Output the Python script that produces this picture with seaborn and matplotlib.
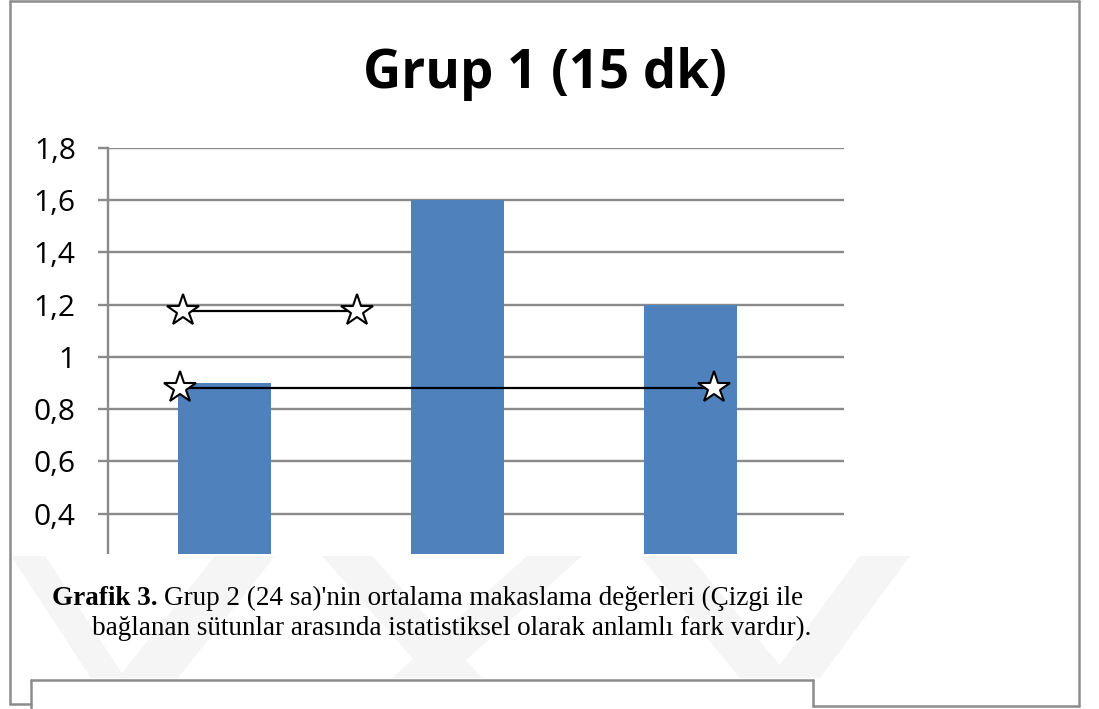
import matplotlib
matplotlib.use("Agg")
import matplotlib.pyplot as plt
from matplotlib.patches import Rectangle, Polygon
from matplotlib.lines import Line2D
import seaborn as sns
import pandas as pd

# ---- data -------------------------------------------------------------
categories = ["Sütun 1", "Sütun 2", "Sütun 3"]
mean_values = [0.9, 1.6, 1.2]
y_ticks = [0.2, 0.4, 0.6, 0.8, 1.0, 1.2, 1.4, 1.6, 1.8]
y_tick_labels = ["0,2", "0,4", "0,6", "0,8", "1", "1,2", "1,4", "1,6", "1,8"]

# significance connectors: start x, end x (category units) and height
sig_x_start = [-0.18, -0.19]
sig_x_end = [0.57, 2.10]
sig_level = [1.175, 0.88]

title = "Grup 1 (15 dk)"
caption_bold = "Grafik 3."
caption_line1 = "Grup 2 (24 sa)'nin ortalama makaslama değerleri (Çizgi ile"
caption_line2 = "bağlanan sütunlar arasında istatistiksel olarak anlamlı fark vardır)."

# ---- figure -----------------------------------------------------------
W, H = 1099, 709
sns.set_theme(style="white")
plt.rcParams["font.family"] = ["Open Sans", "DejaVu Sans"]
plt.rcParams["text.color"] = "black"

fig = plt.figure(figsize=(W / 100, H / 100), dpi=100)
fig.patch.set_facecolor("white")


def fx(px):
    return px / W


def fy(py):
    return 1 - py / H


grid_col = "#8a8a8a"
bar_col = "#4f81bd"

ax = fig.add_axes([fx(108), fy(618), (844 - 108) / W, (618 - 148) / H])
df = pd.DataFrame({"grup": categories, "deger": mean_values})
sns.barplot(data=df, x="grup", y="deger", color=bar_col, saturation=1,
            width=0.4, ax=ax, zorder=2, linewidth=0)

ax.set_xlim(-0.5, -0.5 + (844 - 108) / 233)
ax.set_ylim(0, 1.8)
ax.set_yticks(y_ticks)
ax.set_yticklabels(y_tick_labels, fontsize=21.5)
ax.set_xticks([])
ax.set_xlabel("")
ax.set_ylabel("")
ax.yaxis.grid(True, color=grid_col, linewidth=1.7, zorder=0)
ax.set_axisbelow(True)
for s in ["top", "right", "bottom"]:
    ax.spines[s].set_visible(False)
ax.spines["left"].set_color(grid_col)
ax.spines["left"].set_linewidth(1.7)
ax.tick_params(axis="y", length=7.2, width=1.7, color=grid_col, pad=16,
               labelcolor="black", left=True)

# significance connectors with star ends
for xs, xe, lv in zip(sig_x_start, sig_x_end, sig_level):
    ax.plot([xs, xe], [lv, lv], color="black", linewidth=1.6, zorder=4)
    ax.plot([xs, xe], [lv, lv], linestyle="none", marker="*", markersize=24,
            markerfacecolor="white", markeredgecolor="black",
            markeredgewidth=1.5, zorder=5)

# chart title
fig.text(fx(545), fy(88), title, ha="center", va="baseline",
         fontsize=38, fontweight="bold", color="black")

# caption panel laid over the lower part of the chart
fig.patches.append(Rectangle((fx(11), fy(680)), fx(1078) - fx(11),
                             fy(554) - fy(680), transform=fig.transFigure,
                             facecolor="white", edgecolor="none", zorder=3))

# faint watermark bands inside the caption panel
wm = "#f5f5f5"
bands = [
    [(11, 556), (45, 556), (125, 678), (91, 678)],
    [(215, 556), (275, 556), (178, 678), (118, 678)],
    [(322, 556), (372, 556), (482, 678), (430, 678)],
    [(527, 556), (582, 556), (446, 678), (392, 678)],
    [(640, 556), (690, 556), (790, 678), (740, 678)],
    [(860, 556), (910, 556), (820, 678), (770, 678)],
]
for b in bands:
    fig.patches.append(Polygon([(fx(x), fy(y)) for x, y in b], closed=True,
                               transform=fig.transFigure, facecolor=wm,
                               edgecolor="none", zorder=3.5))

serif = ["Liberation Serif", "DejaVu Serif"]
cap_size = 19.5
t1 = fig.text(fx(52), fy(605), caption_bold, ha="left", va="baseline",
              fontsize=cap_size, fontweight="bold", family=serif,
              color="black", zorder=5)
fig.canvas.draw()
bb = t1.get_window_extent()
fig.text((bb.x1 + 6) / W, fy(605), caption_line1, ha="left", va="baseline",
         fontsize=cap_size, family=serif, color="black", zorder=5)
fig.text(fx(92), fy(635), caption_line2, ha="left", va="baseline",
         fontsize=cap_size, family=serif, color="black", zorder=5)

# page frame lines
frame_col = "#8c8c8c"
frame = [
    [(10, 1), (1079, 1)],
    [(10, 1), (10, 704)],
    [(10, 704), (31, 704)],
    [(31, 680), (31, 709)],
    [(31, 680), (813, 680)],
    [(813, 680), (813, 706)],
    [(813, 706), (1079, 706)],
    [(1079, 1), (1079, 706)],
]
for (x0, y0), (x1, y1) in frame:
    fig.lines.append(Line2D([fx(x0), fx(x1)], [fy(y0), fy(y1)],
                            transform=fig.transFigure, color=frame_col,
                            linewidth=1.8, zorder=6))

fig.savefig("out.png", dpi=100)
